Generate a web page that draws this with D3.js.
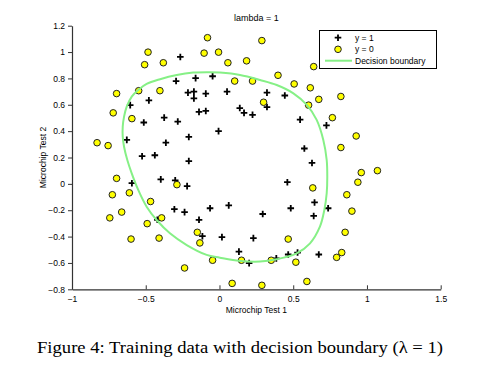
<!DOCTYPE html>
<html>
<head>
<meta charset="utf-8">
<script src="https://cdn.jsdelivr.net/npm/d3@7"></script>
<style>
  body { margin: 0; background: #fff; }
  text { font-family: "Liberation Sans", Arial, sans-serif; }
</style>
</head>
<body>
<div id="chart"></div>
<script>
// y = 1 (accepted)
const posX1 = [0.051267, -0.092742, -0.21371, -0.375, -0.51325, -0.52477, -0.39804, -0.30588, 0.016705, 0.13191,
  0.38537, 0.52938, 0.63882, 0.73675, 0.54666, 0.322, 0.16647, -0.046659, -0.17339, -0.47869,
  -0.60541, -0.62846, -0.59389, -0.42108, -0.11578, 0.20104, 0.46601, 0.67339, -0.13882, -0.29435,
  -0.26555, -0.16187, -0.17339, -0.28283, -0.36348, -0.30012, -0.23675, -0.06394, 0.062788, 0.22984,
  0.2932, 0.48329, 0.64459, 0.46025, 0.6273, 0.57546, 0.72523, 0.22408, 0.44297, 0.322,
  0.13767, -0.0063364, -0.092742, -0.20795, -0.20795, -0.43836, -0.21947, -0.13882];
const posX2 = [0.69956, 0.68494, 0.69225, 0.50219, 0.46564, 0.2098, 0.034357, -0.19225, -0.40424, -0.51389,
  -0.56506, -0.5212, -0.24342, -0.18494, 0.48757, 0.5826, 0.53874, 0.81652, 0.69956, 0.63377,
  0.59722, 0.33406, 0.005117, -0.27266, -0.39693, -0.60161, -0.53582, -0.53582, 0.54605, 0.77997,
  0.96272, 0.8019, 0.64839, 0.47295, 0.31213, 0.027047, -0.21418, -0.18494, -0.16301, -0.41155,
  -0.2288, -0.18494, -0.14108, 0.012427, 0.15863, 0.26827, 0.44371, 0.52412, 0.67032, 0.69225,
  0.57529, 0.39985, 0.55336, 0.35599, 0.17325, 0.21711, -0.016813, -0.27266];

// y = 0 (rejected)
const negX1 = [0.18376, 0.22408, 0.29896, 0.50634, 0.61578, 0.60426, 0.76555, 0.92684, 0.82316, 0.96141,
  0.93836, 0.86348, 0.89804, 0.85196, 0.82892, 0.79435, 0.59274, 0.51786, 0.46601, 0.35081,
  0.28744, 0.085829, 0.14919, -0.13306, -0.40956, -0.39228, -0.74366, -0.69758, -0.75518, -0.69758,
  -0.4038, -0.38076, -0.50749, -0.54781, 0.10311, 0.057028, -0.10426, -0.081221, 0.28744, 0.39689,
  0.63882, 0.82316, 0.67339, 1.0709, -0.046659, -0.23675, -0.15035, -0.49021, -0.46717, -0.28859,
  -0.61118, -0.66302, -0.59965, -0.72638, -0.83007, -0.72062, -0.59389, -0.48445, -0.0063364, 0.63265];
const negX2 = [0.93348, 0.77997, 0.61915, 0.75804, 0.7288, 0.59722, 0.50219, 0.3633, 0.27558, 0.085526,
  0.012427, -0.082602, -0.20687, -0.36769, -0.5212, -0.55775, -0.7405, -0.5943, -0.41886, -0.57968,
  -0.76974, -0.75512, -0.57968, -0.4481, -0.41155, -0.25804, -0.25804, 0.041667, 0.2902, 0.68494,
  0.70687, 0.91886, 0.90424, 0.70687, 0.77997, 0.91886, 0.99196, 1.1089, 1.087, 0.82383,
  0.88962, 0.66301, 0.64108, 0.10015, -0.57968, -0.63816, -0.36769, -0.3019, -0.13377, -0.0060673,
  -0.067982, -0.21418, -0.41886, -0.082602, 0.31213, 0.53874, 0.49488, 0.99927, 0.99927, -0.030612];

// decision boundary (closed curve)
const boundX1 = [-0.178, -0.064, 0.003, 0.139, 0.275, 0.388, 0.501, 0.592, 0.659, 0.704,
  0.727, 0.731, 0.727, 0.711, 0.681, 0.614, 0.523, 0.388, 0.275, 0.139,
  0.003, -0.087, -0.222, -0.336, -0.426, -0.494, -0.551, -0.595, -0.625, -0.647,
  -0.656, -0.656, -0.647, -0.629, -0.595, -0.551, -0.494, -0.403, -0.290];
const boundX2 = [0.844, 0.847, 0.844, 0.826, 0.788, 0.750, 0.687, 0.599, 0.485, 0.333,
  0.181, 0.055, -0.071, -0.198, -0.325, -0.451, -0.527, -0.572, -0.590, -0.585,
  -0.560, -0.539, -0.464, -0.375, -0.274, -0.173, -0.046, 0.080, 0.181, 0.282,
  0.358, 0.434, 0.510, 0.586, 0.662, 0.712, 0.758, 0.794, 0.826];

const xTicks = [-1, -0.5, 0, 0.5, 1, 1.5];
const yTicks = [-0.8, -0.6, -0.4, -0.2, 0, 0.2, 0.4, 0.6, 0.8, 1, 1.2];
const legendLabels = ["y = 1", "y = 0", "Decision boundary"];

const width = 478, height = 386;
const margin = {left: 72, right: 37.3, top: 25.7, bottom: 96.7};

const svg = d3.select("#chart").append("svg")
  .attr("width", width)
  .attr("height", height);

const x = d3.scaleLinear().domain([-1, 1.5]).range([margin.left, width - margin.right]);
const y = d3.scaleLinear().domain([-0.8, 1.2]).range([height - margin.bottom, margin.top]);

// axes
const xAxis = svg.append("g")
  .attr("transform", `translate(0,${y(-0.8)})`)
  .call(d3.axisBottom(x).tickValues(xTicks).tickSizeInner(-4).tickSizeOuter(0).tickPadding(7)
    .tickFormat(d3.format("")));
const yAxis = svg.append("g")
  .attr("transform", `translate(${x(-1)},0)`)
  .call(d3.axisLeft(y).tickValues(yTicks).tickSizeInner(4).tickSizeOuter(0).tickPadding(3)
    .tickFormat(d3.format("")));

[xAxis, yAxis].forEach(g => {
  g.select(".domain").attr("stroke", "#333").attr("stroke-width", 1.2);
  g.selectAll(".tick line").attr("stroke", "#333");
  g.selectAll(".tick text").attr("fill", "#000").style("font-size", "8.5px")
    .style("font-family", "Liberation Sans, Arial, sans-serif");
});

// points
const pos = posX1.map((v, i) => [v, posX2[i]]);
const neg = negX1.map((v, i) => [v, negX2[i]]);

const plusPath = "M-3.3,0H3.3M0,-3.3V3.3";

svg.append("g").selectAll("path")
  .data(pos)
  .enter().append("path")
  .attr("transform", d => `translate(${x(d[0])},${y(d[1])})`)
  .attr("d", plusPath)
  .attr("stroke", "#000")
  .attr("stroke-width", 1.8);

svg.append("g").selectAll("circle")
  .data(neg)
  .enter().append("circle")
  .attr("cx", d => x(d[0]))
  .attr("cy", d => y(d[1]))
  .attr("r", 3.3)
  .attr("fill", "#ffff00")
  .attr("stroke", "#222")
  .attr("stroke-width", 1);

// boundary
const bound = boundX1.map((v, i) => [v, boundX2[i]]);
const line = d3.line()
  .x(d => x(d[0]))
  .y(d => y(d[1]))
  .curve(d3.curveCatmullRomClosed);

svg.append("path")
  .datum(bound)
  .attr("d", line)
  .attr("fill", "none")
  .attr("stroke", "#86f086")
  .attr("stroke-width", 2);

// title & labels
svg.append("text")
  .attr("x", (x(-1) + x(1.5)) / 2)
  .attr("y", 21)
  .attr("text-anchor", "middle")
  .style("font-size", "9px")
  .text("lambda = 1");

svg.append("text")
  .attr("x", (x(-1) + x(1.5)) / 2)
  .attr("y", 313)
  .attr("text-anchor", "middle")
  .style("font-size", "8.5px")
  .text("Microchip Test 1");

svg.append("text")
  .attr("transform", `translate(46,${(y(-0.8) + y(1.2)) / 2}) rotate(-90)`)
  .attr("text-anchor", "middle")
  .style("font-size", "8.5px")
  .text("Microchip Test 2");

// legend
const lg = svg.append("g");
lg.append("rect")
  .attr("x", 319.5).attr("y", 30.5)
  .attr("width", 117).attr("height", 38)
  .attr("fill", "#fff")
  .attr("stroke", "#000")
  .attr("stroke-width", 1);

const rowY = [37.7, 49.3, 60.7];
lg.append("path")
  .attr("transform", `translate(338,${rowY[0]})`)
  .attr("d", plusPath)
  .attr("stroke", "#000")
  .attr("stroke-width", 1.8);
lg.append("circle")
  .attr("cx", 338).attr("cy", rowY[1]).attr("r", 3.3)
  .attr("fill", "#ffff00").attr("stroke", "#222");
lg.append("line")
  .attr("x1", 325).attr("x2", 352)
  .attr("y1", rowY[2]).attr("y2", rowY[2])
  .attr("stroke", "#86f086").attr("stroke-width", 2);

lg.selectAll("text.lbl")
  .data(legendLabels)
  .enter().append("text")
  .attr("class", "lbl")
  .attr("x", 355)
  .attr("y", (d, i) => rowY[i] + 3)
  .style("font-size", "8.5px")
  .text(d => d);

// caption
svg.append("text")
  .attr("x", 37)
  .attr("y", 353)
  .attr("textLength", 406)
  .attr("lengthAdjust", "spacingAndGlyphs")
  .style("font-family", "'Liberation Serif', 'DejaVu Serif', serif")
  .style("font-size", "16.5px")
  .text("Figure 4: Training data with decision boundary (λ = 1)");
</script>
</body>
</html>
